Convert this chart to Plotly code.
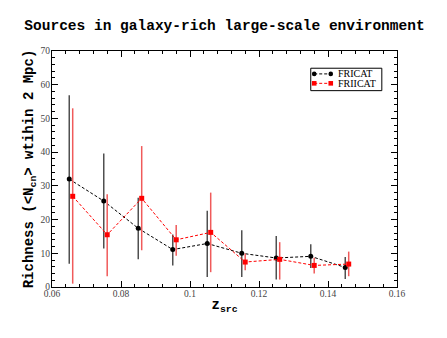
import plotly.graph_objects as go

# FRICAT
z_fri = [0.065, 0.075, 0.085, 0.095, 0.105, 0.115, 0.125, 0.135, 0.145]
n_fri = [32.0, 25.5, 17.4, 11.1, 12.9, 10.0, 8.6, 9.1, 5.8]
hi_fri = [56.9, 39.6, 26.5, 15.6, 22.6, 16.8, 15.1, 12.7, 8.9]
lo_fri = [6.9, 11.4, 8.2, 6.4, 3.0, 3.0, 2.2, 5.6, 2.4]

# FRIICAT
z_frii = [0.066, 0.076, 0.086, 0.096, 0.106, 0.116, 0.126, 0.136, 0.146]
n_frii = [26.9, 15.5, 26.3, 14.0, 16.2, 7.4, 8.2, 6.4, 6.8]
hi_frii = [53.0, 27.5, 41.8, 18.4, 28.0, 9.9, 13.3, 8.7, 10.5]
lo_frii = [1.0, 3.2, 10.9, 9.3, 4.4, 5.0, 2.2, 4.0, 3.2]

x_ticks = [0.06, 0.08, 0.1, 0.12, 0.14, 0.16]
x_tick_labels = ["0.06", "0.08", "0.1", "0.12", "0.14", "0.16"]
y_ticks = [0, 10, 20, 30, 40, 50, 60, 70]

series_names = ["FRICAT", "FRIICAT"]

DASH = "3px,2px"

fig = go.Figure()

def add_series(x, y, hi, lo, name, color, bar_color, symbol):
    fig.add_trace(go.Scatter(
        x=x, y=y, name=name, mode="lines+markers",
        line=dict(color=color, width=1, dash=DASH),
        marker=dict(color=color, symbol=symbol, size=5),
        error_y=dict(type="data", symmetric=False,
                     array=[h - v for h, v in zip(hi, y)],
                     arrayminus=[v - l for v, l in zip(y, lo)],
                     color=bar_color, thickness=1.5, width=0),
        showlegend=False,
    ))

add_series(z_fri, n_fri, hi_fri, lo_fri, series_names[0], "black", "rgb(80,80,80)", "circle")
add_series(z_frii, n_frii, hi_frii, lo_frii, series_names[1], "red", "rgb(240,90,90)", "square")

axis_common = dict(
    showline=True, linecolor="black", linewidth=1, mirror="allticks",
    ticks="inside", ticklen=6, tickcolor="black", tickwidth=1,
    showgrid=False, zeroline=False, automargin=False,
    tickfont=dict(family="Liberation Serif", size=9.5, color="#444"),
)

fig.update_xaxes(
    range=[0.06, 0.16], tickvals=x_ticks, ticktext=x_tick_labels,
    minor=dict(dtick=0.004, ticks="inside", ticklen=3, tickcolor="black", showgrid=False),
    ticklabelstandoff=-2,
    title=dict(text="z<sub>src</sub>", standoff=0,
               font=dict(family="Liberation Mono", size=14, color="black", weight="bold")),
    **axis_common,
)
fig.update_yaxes(
    range=[0, 70], tickvals=y_ticks,
    minor=dict(dtick=2, ticks="inside", ticklen=3, tickcolor="black", showgrid=False),
    ticklabelstandoff=-1,
    title=dict(text="Richness (<N<sub>cn</sub>> wtihin 2 Mpc)", standoff=3,
               font=dict(family="Liberation Mono", size=14, color="black", weight="bold")),
    **axis_common,
)

# manual legend (paper coordinates)
shapes = [dict(type="rect", xref="paper", yref="paper", x0=0.750, x1=0.956, y0=0.832, y1=0.927,
               line=dict(color="black", width=1), fillcolor="white", layer="above")]
annotations = []
leg_rows = [(0.903, "black", "circle"), (0.863, "red", "square")]
rx, ry = 2.3 / 345, 2.3 / 236
for (yy, col, sym), nm in zip(leg_rows, series_names):
    shapes.append(dict(type="line", xref="paper", yref="paper", x0=0.760, x1=0.808, y0=yy, y1=yy,
                       line=dict(color=col, width=1, dash=DASH), layer="above"))
    for xx in (0.760, 0.808):
        shapes.append(dict(type="circle" if sym == "circle" else "rect", xref="paper", yref="paper",
                           x0=xx - rx, x1=xx + rx, y0=yy - ry, y1=yy + ry,
                           fillcolor=col, line=dict(color=col, width=0), layer="above"))
    annotations.append(dict(text=nm, xref="paper", yref="paper", x=0.822, y=yy,
                            xanchor="left", yanchor="middle", showarrow=False,
                            font=dict(family="Liberation Serif", size=10, color="black")))

fig.update_layout(
    width=447, height=338,
    margin=dict(l=44, r=58, t=43, b=59),
    paper_bgcolor="white", plot_bgcolor="white",
    title=dict(text="<b>Sources in galaxy-rich large-scale environment</b>",
               x=0.5, xanchor="center", xref="paper", y=1 - 17 / 338, yanchor="middle", yref="container",
               font=dict(family="Liberation Mono", size=14.5, color="black")),
    shapes=shapes, annotations=annotations,
    showlegend=False,
)

fig.write_html("out.html")
